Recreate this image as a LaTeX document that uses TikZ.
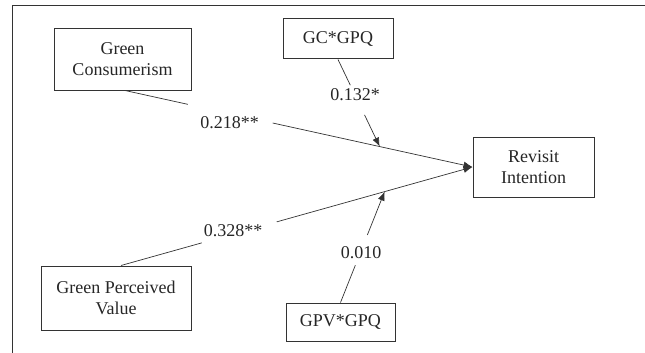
\documentclass[tikz,border=0pt]{standalone}
\usepackage{fontspec}
\setmainfont{Liberation Serif}
\usetikzlibrary{calc,arrows.meta}
\begin{document}
\begin{tikzpicture}[x=1pt,y=-1pt,
  box/.style={draw=black!80,line width=1pt,inner sep=0pt,align=center,font=\fontsize{18}{21}\selectfont,text=black!85},
  lbl/.style={inner sep=0pt,font=\fontsize{18}{21}\selectfont,text=black!85},
  conn/.style={draw=black!80,line width=0.7pt},
  arr/.style={conn,-{Latex[length=9pt,width=7pt]}}]
\useasboundingbox (0,0) rectangle (645,353);
\draw[line width=1.3pt,black!80] (12.5,353) -- (12.5,5.5) -- (645,5.5);
\node[box,minimum width=137pt,minimum height=61pt] (gc) at (122.5,59.5) {Green\\Consumerism};
\node[box,minimum width=110pt,minimum height=40pt] (gq) at (338,39) {GC*GPQ};
\node[box,minimum width=121pt,minimum height=60pt] (ri) at (533.5,167) {Revisit\\Intention};
\node[box,minimum width=150pt,minimum height=64pt] (gpv) at (116,298) {Green Perceived\\Value};
\node[box,minimum width=109pt,minimum height=38pt] (vq) at (340.5,322) {GPV*GPQ};
\node[lbl] (l1) at (229.5,123) {0.218**};
\node[lbl] (l2) at (233,231) {0.328**};
\node[lbl] (l3) at (355,95) {0.132*};
\node[lbl] (l4) at (361,253) {0.010};
\coordinate (gcs) at ($(gc.south)+(2.5,0)$);
\coordinate (gvs) at ($(gpv.north)+(5,0)$);
\draw[conn] (gcs) -- ($(gcs)!0.181!(ri.west)$);
\draw[arr] ($(gcs)!0.425!(ri.west)$) -- (ri.west);
\draw[conn] (gvs) -- ($(gvs)!0.23!(ri.west)$);
\draw[arr] ($(gvs)!0.443!(ri.west)$) -- (ri.west);
\coordinate (m1) at ($(gcs)!0.733!(ri.west)$);
\coordinate (m2) at ($(gvs)!0.75!(ri.west)$);
\draw[conn] (gq.south) -- ($(gq.south)!0.295!(m1)$);
\draw[arr] ($(gq.south)!0.636!(m1)$) -- (m1);
\draw[conn] (vq.north) -- ($(vq.north)!0.336!(m2)$);
\draw[arr] ($(vq.north)!0.609!(m2)$) -- (m2);
\end{tikzpicture}
\end{document}
